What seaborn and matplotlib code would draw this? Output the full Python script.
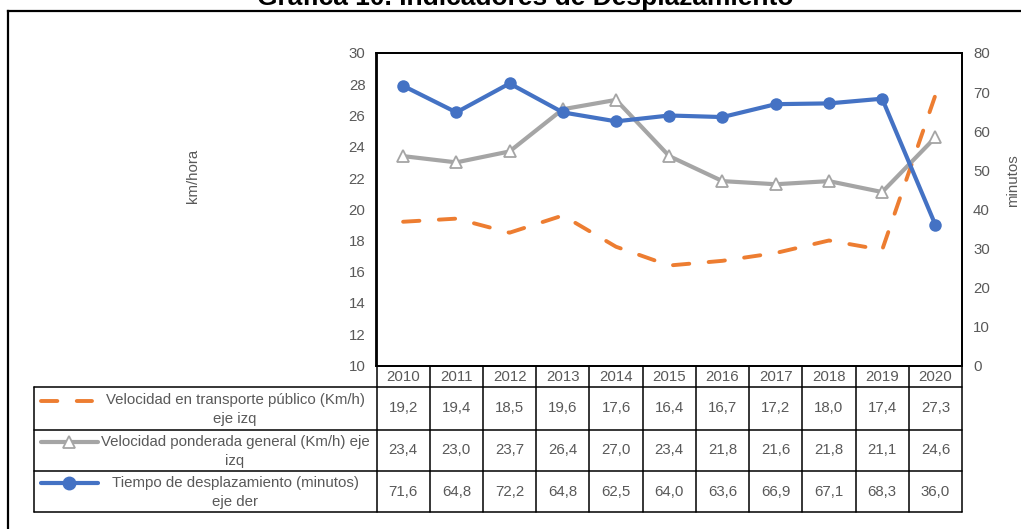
import pandas as pd
import numpy as np
import matplotlib
matplotlib.use('Agg')
import matplotlib.pyplot as plt
import seaborn as sns

# --- DATA ---
years = ['2010', '2011', '2012', '2013', '2014', '2015', '2016', '2017', '2018', '2019', '2020']
vel_transporte = [19.2, 19.4, 18.5, 19.6, 17.6, 16.4, 16.7, 17.2, 18.0, 17.4, 27.3]
vel_ponderada = [23.4, 23.0, 23.7, 26.4, 27.0, 23.4, 21.8, 21.6, 21.8, 21.1, 24.6]
tiempo_desplaz = [71.6, 64.8, 72.2, 64.8, 62.5, 64.0, 63.6, 66.9, 67.1, 68.3, 36.0]
series_names = ['Velocidad en transporte público (Km/h)\neje izq',
                'Velocidad ponderada general (Km/h) eje\nizq',
                'Tiempo de desplazamiento (minutos)\neje der']
title = 'Gráfica 10. Indicadores de Desplazamiento'

# --- STYLE ---
sns.set_style('white')
plt.rcParams['font.family'] = ['Liberation Sans', 'DejaVu Sans']
ORANGE = '#ED7D31'
GRAY = '#A5A5A5'
BLUE = '#4472C4'
TXT = '#595959'
FS = 10.8

W, H = 1021, 529
fig = plt.figure(figsize=(W / 100, H / 100), dpi=100)

# full-figure axes in pixel units, used for the frame and the data table
bg = fig.add_axes([0, 0, 1, 1], zorder=-1)
bg.set_xlim(0, W)
bg.set_ylim(H, 0)
bg.axis('off')

# plot area (pixels)
x0, x1 = 376.5, 962.0
y_top, y_bot = 53.0, 365.5
ax = fig.add_axes([x0 / W, 1 - y_bot / H, (x1 - x0) / W, (y_bot - y_top) / H])

df = pd.DataFrame({'pos': np.arange(len(years)), 'year': years,
                   'transporte': vel_transporte, 'ponderada': vel_ponderada,
                   'tiempo': tiempo_desplaz})

dash_style = (0, (4.2, 5.0))
sns.lineplot(data=df, x='pos', y='transporte', ax=ax, color=ORANGE, lw=2.8,
             linestyle=dash_style, dash_capstyle='round')
sns.lineplot(data=df, x='pos', y='ponderada', ax=ax, color=GRAY, lw=3.0,
             marker='^', markersize=8.5, markerfacecolor='white',
             markeredgecolor=GRAY, markeredgewidth=1.3)
ax2 = ax.twinx()
sns.lineplot(data=df, x='pos', y='tiempo', ax=ax2, color=BLUE, lw=3.0,
             marker='o', markersize=9, markeredgecolor=BLUE, markeredgewidth=0)

ax.set_xlim(-0.5, len(years) - 0.5)
ax.set_ylim(10, 30)
ax.set_yticks(range(10, 31, 2))
ax2.set_ylim(0, 80)
ax2.set_yticks(range(0, 81, 10))
ax.set_xticks([])
for a in (ax, ax2):
    a.set_xlabel('')
    a.set_ylabel('')
    a.tick_params(axis='y', length=0, labelsize=FS, labelcolor=TXT, pad=8)
    for s in a.spines.values():
        s.set_visible(True)
        s.set_color('black')
        s.set_linewidth(1.3)
ax.grid(False)
ax2.grid(False)

# axis titles
fig.text(193 / W, 1 - 176 / H, 'km/hora', rotation=90, ha='center', va='center',
         fontsize=FS, color=TXT)
fig.text(1013 / W, 1 - 181 / H, 'minutos', rotation=90, ha='center', va='center',
         fontsize=FS, color=TXT)

# chart title (partly cut at top like the reference)
fig.text(525 / W, 1 - 5 / H, title, ha='center', va='baseline',
         fontsize=19, fontweight='bold', color='black')

# outer frame
bg.plot([8, W], [11, 11], color='black', lw=1.6, solid_capstyle='projecting')
bg.plot([8, 8], [11, H], color='black', lw=1.6, solid_capstyle='projecting')

# --- DATA TABLE ---
cw = (x1 - x0) / len(years)
row_edges = [387, 430, 471, 512]
tl = 1.1
for i in range(len(years) + 1):
    bg.plot([x0 + i * cw] * 2, [y_bot, row_edges[-1]], color='black', lw=tl)
for ry in row_edges:
    bg.plot([34, x1], [ry, ry], color='black', lw=tl)
bg.plot([34, 34], [row_edges[0], row_edges[-1]], color='black', lw=tl)

for i, yr in enumerate(years):
    bg.text(x0 + (i + 0.5) * cw, (y_bot + row_edges[0]) / 2 + 1, yr,
            ha='center', va='center', fontsize=FS, color=TXT)

rows = [vel_transporte, vel_ponderada, tiempo_desplaz]
for r, vals in enumerate(rows):
    ym = (row_edges[r] + row_edges[r + 1]) / 2
    for i, v in enumerate(vals):
        bg.text(x0 + (i + 0.5) * cw, ym, f'{v:.1f}'.replace('.', ','),
                ha='center', va='center', fontsize=FS, color=TXT)
    bg.text(235, ym + 1, series_names[r], ha='center', va='center',
            fontsize=FS, color=TXT, linespacing=1.4)

# legend keys in the table
ky = [401, 442, 483]
bg.plot([41, 92], [ky[0], ky[0]], color=ORANGE, lw=2.8, linestyle=dash_style,
        dash_capstyle='round')
bg.plot([41, 98], [ky[1], ky[1]], color=GRAY, lw=3.0, solid_capstyle='round')
bg.plot([69], [ky[1]], marker='^', markersize=8.5, markerfacecolor='white',
        markeredgecolor=GRAY, markeredgewidth=1.3, linestyle='none')
bg.plot([41, 98], [ky[2], ky[2]], color=BLUE, lw=3.0, solid_capstyle='round')
bg.plot([69], [ky[2]], marker='o', markersize=9, color=BLUE, linestyle='none')

fig.savefig('out.png', dpi=100)
